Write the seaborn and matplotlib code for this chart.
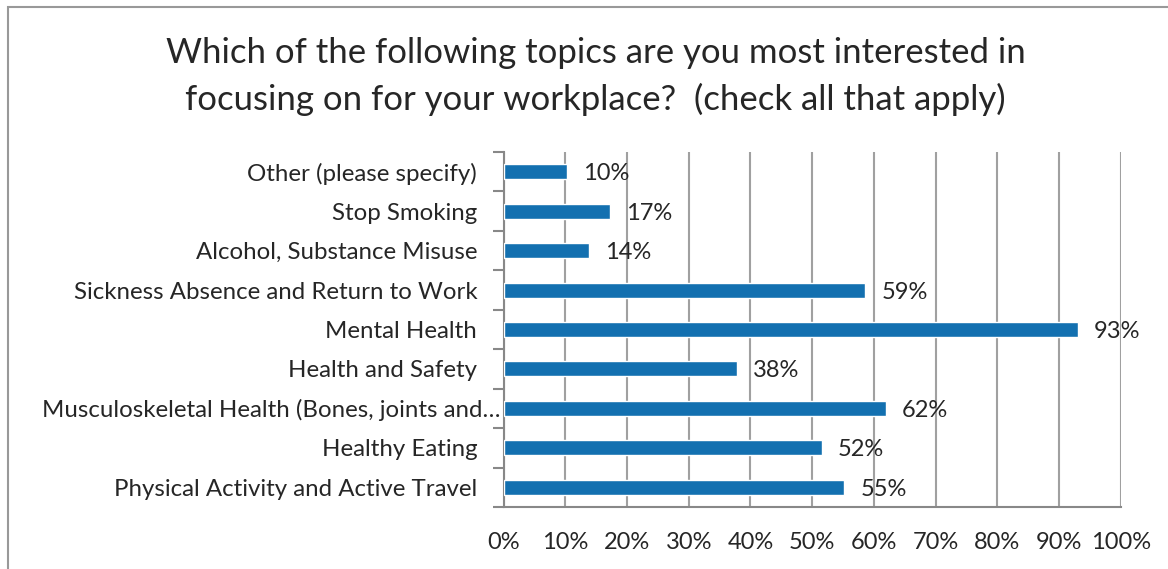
import matplotlib
matplotlib.use("Agg")
import matplotlib.pyplot as plt
import seaborn as sns
import pandas as pd
from matplotlib.patches import Rectangle
from matplotlib.ticker import FixedLocator
from matplotlib.transforms import ScaledTranslation

# survey topics, top to bottom as shown
topics = ["Other (please specify)", "Stop Smoking", "Alcohol, Substance Misuse",
          "Sickness Absence and Return to Work", "Mental Health", "Health and Safety",
          "Musculoskeletal Health (Bones, joints and\u2026", "Healthy Eating",
          "Physical Activity and Active Travel"]
pct = [10.3, 17.3, 13.8, 58.6, 93.1, 37.8, 62.0, 51.6, 55.2]
xticks = [0, 10, 20, 30, 40, 50, 60, 70, 80, 90, 100]

df = pd.DataFrame({"topic": topics, "pct": pct})

sns.set_style("white")
plt.rcParams["font.family"] = ["Lato", "DejaVu Sans"]

fig = plt.figure(figsize=(11.68, 5.69), dpi=100)
ax = fig.add_axes([0.4311, 0.1090, 0.5284, 0.6239])

sns.barplot(data=df, x="pct", y="topic", orient="h", color="#1370b0",
            saturation=1, width=0.38, ax=ax, zorder=3)

ax.set_xlim(0, 100)
ax.set_ylim(len(topics) - 0.5, -0.5)
ax.set_xticks(xticks)
ax.set_xticklabels([f"{t}%" for t in xticks], fontsize=17)
ax.set_xlabel("")
ax.set_ylabel("")
ax.tick_params(axis="y", length=0, pad=19, labelsize=17.3)
ax.tick_params(axis="x", length=8, width=1.5, color="#888888", pad=10)
ax.yaxis.set_minor_locator(FixedLocator([i - 0.5 for i in range(len(topics) + 1)]))
ax.tick_params(axis="y", which="minor", length=8, width=1.5, color="#888888", left=True)

# the truncated label sticks out further right, as in the original
lab = ax.get_yticklabels()[6]
lab.set_transform(lab.get_transform() + ScaledTranslation(0.23, 0, fig.dpi_scale_trans))

ax.grid(axis="x", color="#a0a0a0", linewidth=1.5, zorder=0)
for s in ["top", "right"]:
    ax.spines[s].set_visible(False)
for s in ["left", "bottom"]:
    ax.spines[s].set_color("#888888")
    ax.spines[s].set_linewidth(1.5)

for i, v in enumerate(pct):
    ax.text(v + 2.6, i + 0.05, f"{round(v)}%", va="center", ha="left", fontsize=17, zorder=4)

fig.text(0.51, 0.866, "Which of the following topics are you most interested in\nfocusing on for your workplace?  (check all that apply)",
         ha="center", va="center", fontsize=25, linespacing=1.52)

fig.patches.append(Rectangle((8 / 1168, -0.1), 1.2, 1 - 7 / 569 + 0.1, transform=fig.transFigure,
                             fill=False, edgecolor="#999999", linewidth=1.5))

fig.savefig("out.png", dpi=100)
